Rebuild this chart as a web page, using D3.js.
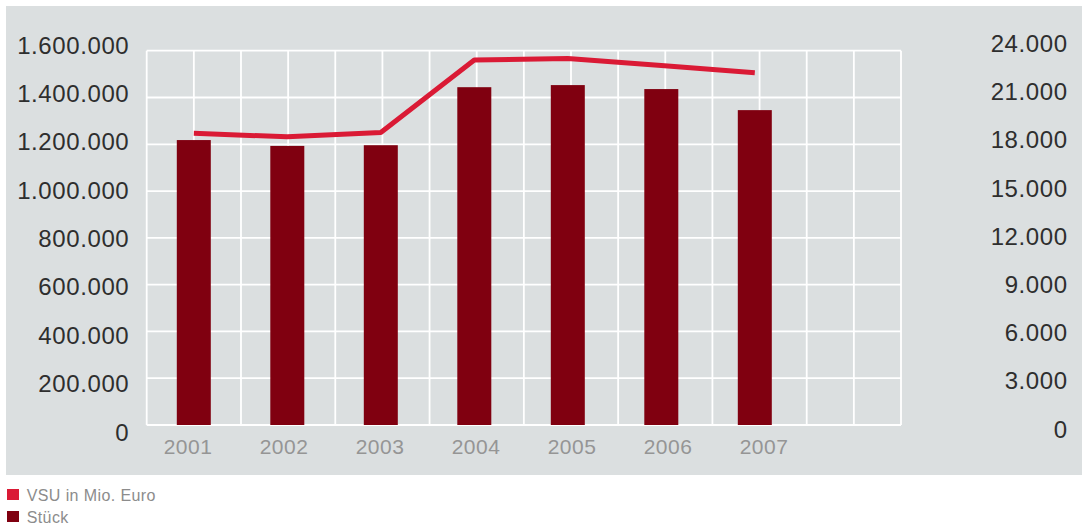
<!DOCTYPE html>
<html>
<head>
<meta charset="utf-8">
<script src="https://cdn.jsdelivr.net/npm/d3@7"></script>
<style>
  html, body { margin: 0; padding: 0; background: #ffffff; }
  svg { display: block; font-family: "Liberation Sans", Arial, sans-serif; }
</style>
</head>
<body>
<svg id="chart" width="1082" height="525"></svg>
<script>
// ---- data ----
const years = ["2001", "2002", "2003", "2004", "2005", "2006", "2007"];
const stueck = [1218000, 1193000, 1196000, 1444000, 1453000, 1436000, 1346000];
const vsu = [18700, 18480, 18760, 23400, 23500, 23050, 22580];
const leftTicks = [0, 200000, 400000, 600000, 800000, 1000000, 1200000, 1400000, 1600000];
const rightTicks = [0, 3000, 6000, 9000, 12000, 15000, 18000, 21000, 24000];
const legendItems = ["VSU in Mio. Euro", "Stück"];

// ---- styles ----
const C_BG = "#dbdfe0", C_BAR = "#800010", C_LINE = "#da1a35";
const C_TICK = "#2e2e2e", C_YEAR = "#959595", C_LEG = "#8c8c8c";

const svg = d3.select("#chart");
const fmt = v => d3.format(",")(v).replace(/,/g, ".");

// layout
const plot = { left: 146.7, right: 901, top: 50.7, bottom: 425 };

svg.append("rect").attr("x", 6).attr("y", 6).attr("width", 1076).attr("height", 469).attr("fill", C_BG);

// scales
const yL = d3.scaleLinear().domain([0, 1600000]).range([plot.bottom, plot.top]);
const yR = d3.scaleLinear().domain([0, 24000]).range([plot.bottom, plot.top]);
const yLlab = d3.scaleLinear().domain([0, 1600000]).range([432, 45]);
const yRlab = d3.scaleLinear().domain([0, 24000]).range([429, 43.3]);
const xBar = d3.scalePoint().domain(years).range([193.8, 754.8]);
const xLab = d3.scalePoint().domain(years).range([188, 764]);
const xGrid = d3.scaleLinear().domain([0, 16]).range([plot.left, plot.right]);

// grid
const g = svg.append("g");
g.selectAll("line.h").data(leftTicks).join("line")
  .attr("x1", plot.left).attr("x2", plot.right)
  .attr("y1", d => yL(d)).attr("y2", d => yL(d))
  .attr("stroke", "#ffffff").attr("stroke-width", 1.8);
g.selectAll("line.v").data(d3.range(0, 17)).join("line")
  .attr("x1", d => xGrid(d)).attr("x2", d => xGrid(d))
  .attr("y1", plot.top).attr("y2", plot.bottom)
  .attr("stroke", "#ffffff").attr("stroke-width", 1.8);

// bars
const barW = 34;
svg.append("g").selectAll("rect").data(years).join("rect")
  .attr("x", (d) => xBar(d) - barW / 2)
  .attr("width", barW)
  .attr("y", (d, i) => yL(stueck[i]))
  .attr("height", (d, i) => yL(0) - yL(stueck[i]))
  .attr("fill", C_BAR);

// line
const line = d3.line().x((d, i) => xBar(years[i])).y(d => yR(d));
svg.append("path").datum(vsu)
  .attr("d", line)
  .attr("fill", "none").attr("stroke", C_LINE).attr("stroke-width", 5)
  .attr("stroke-linejoin", "round");

// left tick labels
const fs = 24;
svg.append("g").selectAll("text").data(leftTicks).join("text")
  .attr("x", 129.3).attr("y", d => yLlab(d) + 0.358 * fs)
  .attr("text-anchor", "end").attr("font-size", fs).attr("letter-spacing", 0.6)
  .attr("fill", C_TICK).text(d => fmt(d));

// right tick labels
svg.append("g").selectAll("text").data(rightTicks).join("text")
  .attr("x", 1067.7).attr("y", d => yRlab(d) + 0.358 * fs)
  .attr("text-anchor", "end").attr("font-size", fs).attr("letter-spacing", 0.6)
  .attr("fill", C_TICK).text(d => fmt(d));

// year labels
svg.append("g").selectAll("text").data(years).join("text")
  .attr("x", d => xLab(d)).attr("y", 453.5)
  .attr("text-anchor", "middle").attr("font-size", 21).attr("letter-spacing", 0.5)
  .attr("fill", C_YEAR).text(d => d);

// legend
const leg = svg.append("g").selectAll("g").data(legendItems).join("g")
  .attr("transform", (d, i) => `translate(7, ${489 + i * 22})`);
leg.append("rect").attr("width", 12).attr("height", 11)
  .attr("fill", (d, i) => i === 0 ? C_LINE : C_BAR);
leg.append("text").attr("x", 19.7).attr("y", 11.5)
  .attr("font-size", 16).attr("letter-spacing", 0.4)
  .attr("fill", C_LEG).text(d => d);
</script>
</body>
</html>
